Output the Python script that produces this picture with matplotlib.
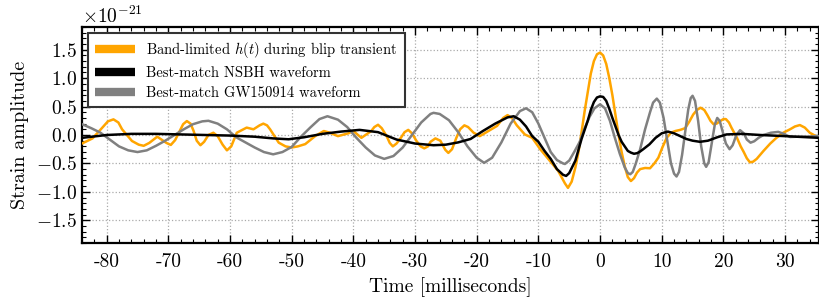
import matplotlib
matplotlib.use("Agg")
import matplotlib.pyplot as plt
from matplotlib.lines import Line2D
from matplotlib.ticker import MultipleLocator, ScalarFormatter
import numpy as np

plt.rcParams['font.family'] = 'serif'
plt.rcParams['font.serif'] = ['cmr10']
plt.rcParams['mathtext.fontset'] = 'cm'
plt.rcParams['axes.formatter.use_mathtext'] = True
plt.rcParams['axes.unicode_minus'] = True

SCALE = 1e-21

# Band-limited h(t) during blip transient (units of 1e-21)
t_orange = [-84.0, -82.3, -80.7, -79.8, -78.9, -78.1, -77.5, -75.9, -74.8, -74.0, -73.1, -71.8,
            -70.3, -69.6, -68.9, -68.3, -67.6, -67.0, -66.4, -65.9, -65.4, -64.8, -64.2, -63.5,
            -62.7, -62.0, -61.2, -60.5, -59.8, -58.9, -57.3, -56.2, -55.2, -54.6, -54.0, -53.5,
            -52.1, -51.0, -50.0, -49.0, -47.8, -46.2, -44.8, -43.8, -42.5, -40.8, -40.0, -38.7,
            -37.1, -36.6, -36.0, -35.4, -34.6, -34.1, -33.6, -33.0, -32.3, -31.7, -31.1, -30.5,
            -29.8, -29.1, -28.5, -27.9, -27.5, -26.7, -25.9, -25.1, -24.6, -24.0, -23.3, -22.7,
            -22.0, -21.4, -20.5, -19.5, -18.4, -16.7, -15.7, -15.0, -14.3, -13.5, -12.2, -11.0,
            -9.7, -8.1, -6.8, -5.7, -5.2, -4.6, -4.0, -3.5, -3.0, -2.5, -2.0, -1.5,
            -1.0, -0.5, 0.0, 0.5, 1.0, 1.5, 2.0, 2.5, 3.0, 3.5, 4.0, 4.5,
            5.0, 5.5, 6.0, 6.5, 7.3, 8.1, 8.8, 9.45, 10.1, 10.8, 11.5, 12.2,
            13.0, 13.8, 14.5, 15.1, 15.7, 16.3, 16.9, 17.4, 17.9, 18.4, 18.9, 19.4,
            20.0, 20.4, 20.9, 21.3, 22.2, 22.8, 23.3, 23.8, 24.3, 24.8, 25.4, 26.5,
            27.6, 28.6, 29.7, 30.8, 31.6, 32.4, 33.2, 34.0, 35.5]
v_orange = [-0.15, -0.06, 0.13, 0.24, 0.275, 0.22, 0.10, -0.105, -0.17, -0.19, -0.14, -0.03,
            -0.14, -0.175, -0.09, 0.04, 0.19, 0.245, 0.20, 0.07, -0.10, -0.18, -0.12, 0.0,
            0.04, -0.02, -0.17, -0.27, -0.20, 0.04, 0.13, 0.10, 0.17, 0.20, 0.17, 0.10,
            -0.135, -0.20, -0.22, -0.20, -0.16, -0.02, 0.07, 0.04, -0.02, 0.03, 0.07, -0.05,
            0.07, 0.14, 0.18, 0.12, -0.02, -0.14, -0.20, -0.15, -0.05, 0.05, 0.09, 0.03,
            -0.10, -0.20, -0.235, -0.20, -0.12, -0.06, -0.10, -0.26, -0.315, -0.25, -0.05, 0.10,
            0.17, 0.14, 0.04, -0.02, 0.05, 0.16, 0.30, 0.35, 0.30, 0.17, 0.01, -0.05,
            -0.25, -0.46, -0.63, -0.85, -0.93, -0.82, -0.57, -0.30, 0.05, 0.42, 0.75, 1.08,
            1.30, 1.42, 1.45, 1.40, 1.25, 1.00, 0.70, 0.35, 0.0, -0.30, -0.55, -0.74,
            -0.81, -0.76, -0.66, -0.60, -0.58, -0.585, -0.50, -0.40, -0.22, -0.05, 0.04, 0.07,
            0.09, 0.12, 0.24, 0.36, 0.44, 0.48, 0.44, 0.35, 0.25, 0.19, 0.20, 0.24,
            0.28, 0.28, 0.22, 0.13, -0.05, -0.20, -0.30, -0.41, -0.48, -0.47, -0.42, -0.28,
            -0.15, -0.05, 0.04, 0.10, 0.15, 0.175, 0.13, 0.04, -0.05]

# Best-match NSBH waveform
t_black = [-84, -80, -76, -72, -68, -64, -60, -56, -53, -50.5, -48, -45, -42, -39, -36, -33,
           -30, -27, -25, -23, -21, -19, -17, -15, -14, -13, -12, -11, -10, -9, -8, -7,
           -6, -5.5, -5, -4, -3, -2, -1.5, -1, -0.5, 0, 0.5, 1, 1.5, 2, 2.5, 3,
           3.5, 4, 4.5, 5, 5.5, 6, 6.5, 7, 8, 9, 10, 11, 12, 13, 14, 15,
           16.2, 17.5, 19, 20.5, 23, 26, 30, 35.5]
v_black = [-0.05, 0.0, 0.02, 0.02, 0.01, 0.0, -0.01, -0.03, -0.06, -0.075, -0.04, 0.02, 0.06, 0.09, 0.05, -0.08,
           -0.15, -0.18, -0.17, -0.13, -0.07, 0.07, 0.20, 0.31, 0.33, 0.27, 0.15, -0.02, -0.12, -0.28, -0.42, -0.60,
           -0.70, -0.72, -0.67, -0.45, -0.07, 0.25, 0.44, 0.58, 0.66, 0.68, 0.67, 0.60, 0.46, 0.30, 0.15, 0.0,
           -0.12, -0.20, -0.28, -0.31, -0.33, -0.32, -0.29, -0.25, -0.165, -0.05, 0.03, 0.06, 0.03, -0.02, -0.07, -0.10,
           -0.12, -0.10, -0.04, 0.01, 0.02, 0.0, -0.02, -0.05]

# Best-match GW150914 waveform
t_gray = [-84, -82.5, -81, -79.5, -78, -76.5, -75, -73.5, -72, -70.5, -69, -67.5, -66, -64.5, -63.5, -62,
          -60.5, -59, -57.5, -56, -54.5, -53, -51.5, -50, -48.5, -47, -45.5, -44.2, -42.5, -41, -39.5, -38,
          -36.5, -35, -33.5, -32, -30.5, -29, -27.5, -27, -26, -24.5, -23, -21.5, -20, -18.8, -17.5, -16,
          -14.5, -13, -12, -11, -10, -9, -8, -7, -6, -5.7, -5.0, -4.2, -3.3, -2.5, -1.7, -0.9,
          0.0, 0.8, 1.6, 2.4, 3.2, 4.0, 4.5, 4.9, 5.3, 5.8, 6.5, 7.3, 8.1, 8.6, 9.2, 9.7,
          10.3, 10.9, 11.5, 12.0, 12.4, 12.8, 13.3, 13.8, 14.3, 14.7, 15.0, 15.4, 15.9, 16.4, 16.9, 17.2,
          17.6, 18.1, 18.6, 19.0, 19.4, 19.9, 20.4, 21.0, 21.5, 22.1, 22.7, 23.3, 23.8, 24.4, 25.0, 25.7,
          26.5, 27.7, 28.9, 29.8, 30.8, 32.0, 35.5]
v_gray = [0.19, 0.12, 0.04, -0.08, -0.20, -0.27, -0.30, -0.27, -0.19, -0.10, 0.0, 0.10, 0.19, 0.24, 0.25, 0.20,
          0.10, -0.04, -0.13, -0.22, -0.30, -0.34, -0.30, -0.21, -0.03, 0.13, 0.28, 0.33, 0.27, 0.14, -0.05, -0.22,
          -0.36, -0.42, -0.37, -0.22, 0.0, 0.22, 0.37, 0.39, 0.37, 0.26, 0.05, -0.20, -0.40, -0.49, -0.40, -0.13,
          0.20, 0.42, 0.47, 0.40, 0.20, -0.05, -0.30, -0.44, -0.50, -0.51, -0.45, -0.30, -0.12, 0.12, 0.32, 0.47,
          0.54, 0.47, 0.25, -0.05, -0.33, -0.57, -0.67, -0.69, -0.65, -0.50, -0.25, 0.10, 0.40, 0.57, 0.64, 0.57,
          0.30, -0.10, -0.50, -0.68, -0.73, -0.65, -0.35, 0.05, 0.45, 0.65, 0.69, 0.60, 0.25, -0.20, -0.50, -0.56,
          -0.48, -0.15, 0.18, 0.30, 0.25, 0.05, -0.15, -0.25, -0.18, 0.0, 0.085, 0.03, -0.08, -0.135, -0.11, -0.05,
          0.0, 0.04, 0.055, 0.02, -0.035, -0.03, -0.02]

labels = ['Band-limited $h(t)$ during blip transient',
          'Best-match NSBH waveform',
          'Best-match GW150914 waveform']
colors = ['#FFA500', '#000000', '#808080']

xticks = [-80, -70, -60, -50, -40, -30, -20, -10, 0, 10, 20, 30]
xticklabels = ['-80', '-70', '-60', '-50', '-40', '-30', '-20', '-10', '0', '10', '20', '30']
yticks = [-1.5, -1.0, -0.5, 0.0, 0.5, 1.0, 1.5]

fig = plt.figure(figsize=(8.19, 3.06), dpi=100)
ax = fig.add_axes([82/819, 63/306, 737/819, 216/306])

lw = 1.8
ax.plot(t_orange, np.array(v_orange) * SCALE, color=colors[0], lw=lw, zorder=3,
        solid_joinstyle='round')
ax.plot(t_gray, np.array(v_gray) * SCALE, color=colors[2], lw=lw, zorder=4,
        solid_joinstyle='round')
ax.plot(t_black, np.array(v_black) * SCALE, color=colors[1], lw=lw, zorder=5,
        solid_joinstyle='round')

ax.set_xlim(-84, 35.5)
ax.set_ylim(-1.9e-21, 1.9e-21)
ax.set_xticks(xticks)
ax.set_xticklabels(xticklabels)
ax.set_yticks(np.array(yticks) * SCALE)
fmt = ScalarFormatter(useMathText=True)
fmt.set_powerlimits((0, 0))
ax.yaxis.set_major_formatter(fmt)
ax.xaxis.set_minor_locator(MultipleLocator(2))
ax.yaxis.set_minor_locator(MultipleLocator(0.1e-21))

ax.tick_params(which='both', direction='in', top=True, right=True, labelsize=14)
ax.tick_params(which='major', length=6, width=1)
ax.tick_params(which='minor', length=3, width=0.8)
ax.tick_params(axis='x', pad=7)
ax.yaxis.get_offset_text().set_fontsize(14)

for s in ax.spines.values():
    s.set_linewidth(1.6)

ax.grid(True, which='major', linestyle=':', color='#aaaaaa', linewidth=0.9)
ax.set_axisbelow(True)

ax.set_xlabel('Time [milliseconds]', fontsize=14, labelpad=5)
ax.set_ylabel('Strain amplitude', fontsize=14.5, labelpad=5)

handles = [Line2D([], [], color=c, lw=6, solid_capstyle='butt') for c in colors]
leg = ax.legend(handles, labels, loc='upper left', fontsize=10.5, handlelength=2.7,
                frameon=True, fancybox=False, framealpha=1, edgecolor='#333333',
                borderaxespad=0.4, labelspacing=0.42, handletextpad=0.8, borderpad=0.5)
leg.get_frame().set_linewidth(1.5)
leg.set_zorder(10)

fig.savefig('out.png', dpi=100)
